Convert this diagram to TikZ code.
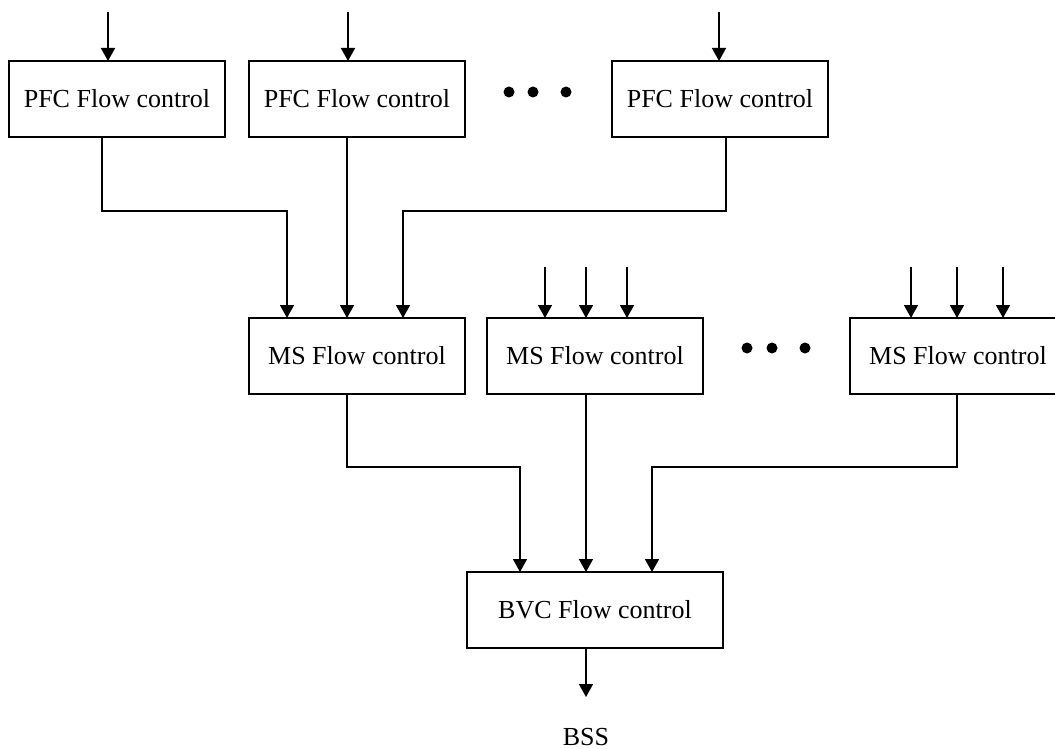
\documentclass[tikz,border=0pt]{standalone}
\usepackage{fontspec}
\setmainfont{Liberation Serif}
\usetikzlibrary{arrows.meta,positioning,calc}

\begin{document}
\begin{tikzpicture}[>={Triangle[length=6.5pt,width=7pt]}, line width=0.8pt,
    fc/.style={draw, line width=1.3pt, outer sep=0pt, minimum width=108pt, minimum height=38pt,
      font=\fontsize{13}{15}\selectfont}]
    \useasboundingbox (0,0) rectangle (527.5pt,-374.5pt);
    % PFC row
    \node[fc] (pfc1) at (58.5pt,-49.5pt) {PFC Flow control};
    \node[fc, right=12pt of pfc1] (pfc2) {PFC Flow control};
    \node[fc, right=73.5pt of pfc2] (pfc3) {PFC Flow control};
    \foreach \dx in {22pt,34pt,50.5pt}
      \fill ([xshift=\dx,yshift=3.5pt]pfc2.east) circle (2.75pt);
    % MS row
    \node[fc, below=90.5pt of pfc2] (ms1) {MS Flow control};
    \node[fc, right=11pt of ms1] (ms2) {MS Flow control};
    \node[fc, right=73.5pt of ms2] (ms3) {MS Flow control};
    \foreach \dx in {22pt,34.5pt,51pt}
      \fill ([xshift=\dx,yshift=4pt]ms2.east) circle (2.75pt);
    % BVC and output
    \node[fc, minimum width=128pt, below=89pt of ms2] (bvc) {BVC Flow control};
    \node[below=36.5pt of bvc, xshift=-4.5pt, font=\fontsize{13}{15}\selectfont] (bss) {BSS};

    % Inputs
    \coordinate (in1) at ([xshift=-4.5pt,yshift=24.5pt]pfc1.north);
    \coordinate (in2) at ([xshift=-4.5pt,yshift=24.5pt]pfc2.north);
    \coordinate (in3) at ([xshift=-0.5pt,yshift=24.5pt]pfc3.north);
    \draw[->] (in1) -- (in1 |- pfc1.north);
    \draw[->] (in2) -- (in2 |- pfc2.north);
    \draw[->] (in3) -- (in3 |- pfc3.north);
    \foreach \dx [count=\i] in {-25pt,-4.5pt,16pt} {
      \coordinate (inb\i) at ([xshift=\dx,yshift=25.5pt]ms2.north);
      \draw[->] (inb\i) -- (inb\i |- ms2.north);
    }
    \foreach \dx [count=\i] in {-23.5pt,-0.5pt,22.5pt} {
      \coordinate (inc\i) at ([xshift=\dx,yshift=25.5pt]ms3.north);
      \draw[->] (inc\i) -- (inc\i |- ms3.north);
    }

    % PFC -> MS
    \draw[->] ([xshift=-7.5pt]pfc1.south) -- ++(0,-37pt) -| ([xshift=-35pt]ms1.north);
    \draw[->] ([xshift=-5pt]pfc2.south) -- ([xshift=-5pt]ms1.north);
    \draw[->] ([xshift=3pt]pfc3.south) -- ++(0,-37pt) -| ([xshift=23pt]ms1.north);

    % MS -> BVC
    \draw[->] ([xshift=-5pt]ms1.south) -- ++(0,-36.5pt) -| ([xshift=-37.5pt]bvc.north);
    \draw[->] ([xshift=-4.5pt]ms2.south) -- ([xshift=-4.5pt]bvc.north);
    \draw[->] ([xshift=-0.5pt]ms3.south) -- ++(0,-36.5pt) -| ([xshift=28.5pt]bvc.north);

    % Output
    \draw[->, shorten >=12pt] ([xshift=-4.5pt]bvc.south) -- (bss.north);
\end{tikzpicture}
\end{document}
